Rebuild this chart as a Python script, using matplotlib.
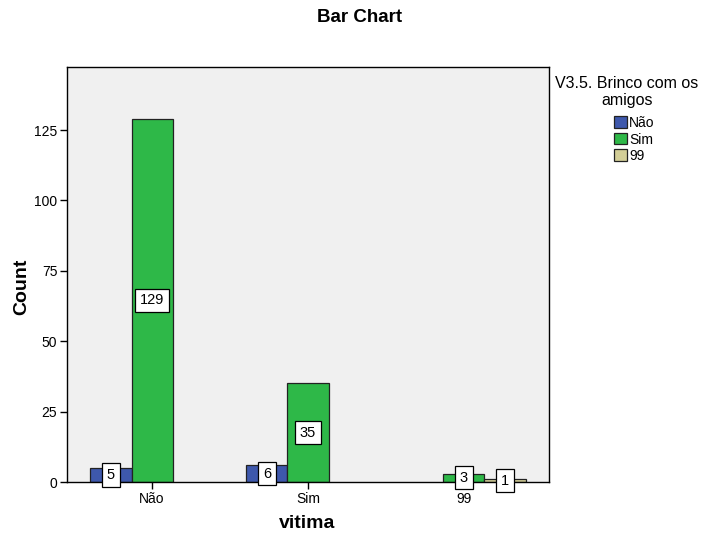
import matplotlib
matplotlib.use("Agg")
import matplotlib.pyplot as plt
import numpy as np

plt.rcParams['font.family'] = ['Liberation Sans', 'DejaVu Sans']

groups = ["Não", "Sim", "99"]
series_names = ["Não", "Sim", "99"]
# counts per series (rows) for each vitima group (columns); None = no bar
counts = {
    "Não": [5, 6, None],
    "Sim": [129, 35, 3],
    "99": [None, None, 1],
}
colors = {"Não": "#3E58AC", "Sim": "#2EB848", "99": "#D3CE97"}
yticks = [0, 25, 50, 75, 100, 125]

fig = plt.figure(figsize=(7.17, 5.33), dpi=100)
W, H = 717, 533
ax = fig.add_axes([67 / W, (H - 482) / H, (549 - 67) / W, (482 - 67) / H])
ax.set_facecolor("#F0F0F0")

x = np.arange(len(groups))
width = 0.263
offsets = [-width, 0, width]
for off, name in zip(offsets, series_names):
    for xi, v in zip(x, counts[name]):
        if v is None:
            continue
        ax.bar(xi + off, v, width=width, color=colors[name], edgecolor="#222222",
               linewidth=0.9, zorder=2)
        ax.text(xi + off, v / 2, str(v), ha="center", va="center", fontsize=10.5,
                zorder=3,
                bbox=dict(boxstyle="square,pad=0.32", facecolor="white",
                          edgecolor="black", linewidth=0.9))

ax.set_xlim(-0.545, 2.545)
ax.set_ylim(0, 147.4)
ax.set_xticks(x)
ax.set_xticklabels(groups, fontsize=10)
ax.set_yticks(yticks)
ax.set_yticklabels([str(t) for t in yticks], fontsize=10)
ax.tick_params(axis="both", length=5, width=1, color="black", pad=2)
for s in ax.spines.values():
    s.set_linewidth(1)
    s.set_color("black")

fig.text(307 / W, 1 - 524 / H, "vitima", ha="center", va="center",
         fontsize=14, fontweight="bold")
fig.text(22 / W, 1 - 287 / H, "Count", ha="center", va="center",
         fontsize=14, fontweight="bold", rotation=90)
fig.text(360 / W, 1 - 18 / H, "Bar Chart", ha="center", va="center",
         fontsize=13.5, fontweight="bold")

fig.text(627 / W, 1 - 83 / H, "V3.5. Brinco com os", ha="center", va="center",
         fontsize=11.5)
fig.text(627 / W, 1 - 100 / H, "amigos", ha="center", va="center", fontsize=11.5)

handles = [plt.Rectangle((0, 0), 1, 1, facecolor=colors[n], edgecolor="#222222",
                         linewidth=0.9) for n in series_names]
fig.legend(handles, series_names, loc="upper left",
           bbox_to_anchor=(614 / W, 1 - 116 / H), frameon=False, fontsize=10,
           handlelength=0.9, handleheight=0.9, handletextpad=0.2,
           labelspacing=0.18, borderpad=0, borderaxespad=0)

fig.savefig("out.png", dpi=100)
